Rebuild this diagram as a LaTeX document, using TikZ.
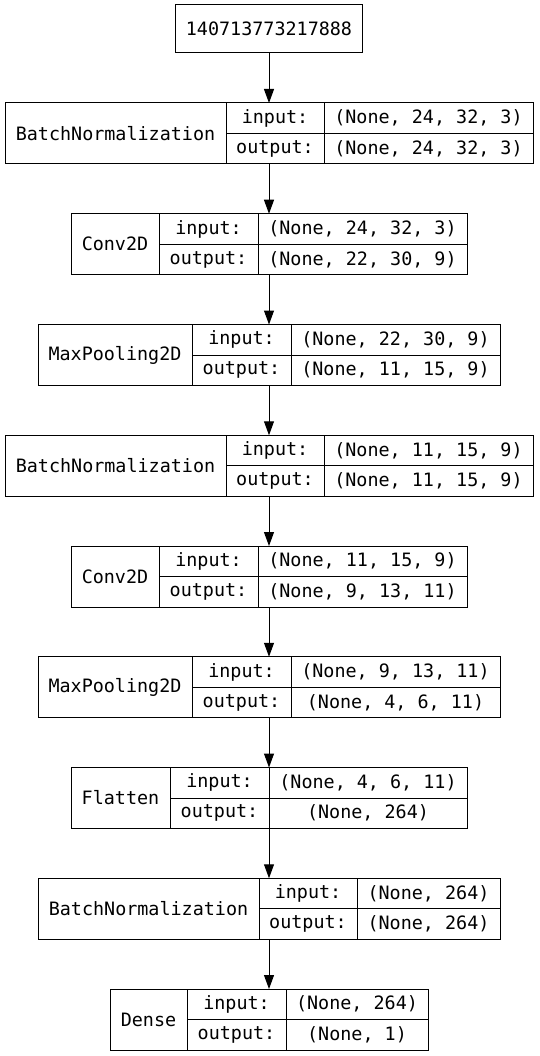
\documentclass[tikz,border=0pt]{standalone}
\usepackage{fontspec}
\setmainfont{DejaVu Sans Mono}
\usetikzlibrary{arrows.meta}

% one layer of the model: frame, name cell and the four shape cells
% #1 name, #2 centre y, #3..#6 column edges x, #7 label, #8 input, #9 output
\newcommand{\kerasrow}[9]{%
  \node[frame,minimum width={#6-#3}] (#1) at ({(#3+#6)/2},#2) {};
  \node[cell,minimum width={#4-#3},minimum height=61] (#1n) at ({(#3+#4)/2},#2) {#7};
  \node[cell,minimum width={#5-#4}] (#1a) at ({(#4+#5)/2},{#2-15.25}) {input:};
  \node[cell,minimum width={#6-#5}] (#1b) at ({(#5+#6)/2},{#2-15.25}) {#8};
  \node[cell,minimum width={#5-#4}] (#1c) at ({(#4+#5)/2},{#2+15.25}) {output:};
  \node[cell,minimum width={#6-#5}] (#1d) at ({(#5+#6)/2},{#2+15.25}) {#9};
}

\begin{document}
\begin{tikzpicture}[x=1pt,y=-1pt,
    cell/.style={draw,line width=1pt,inner sep=0pt,outer sep=0pt,
                 minimum height=30.5,font=\fontsize{18.4}{22}\selectfont},
    frame/.style={inner sep=0pt,outer sep=0pt,minimum height=61},
    flow/.style={line width=1pt,-{Triangle[length=14pt,width=10pt]}}]

  \useasboundingbox (0,0) rectangle (539,1056);

  % --- the input node ---
  \node[cell,minimum width=187,minimum height=48] (inp) at (269,29) {140713773217888};

  % --- the layers, top to bottom ---
  \kerasrow{bnA}{133.5}{5}{226}{324}{533}{BatchNormalization}{(None, 24, 32, 3)}{(None, 24, 32, 3)}
  \kerasrow{convA}{244.25}{71}{159}{258}{467}{Conv2D}{(None, 24, 32, 3)}{(None, 22, 30, 9)}
  \kerasrow{poolA}{355}{38}{192}{291}{500}{MaxPooling2D}{(None, 22, 30, 9)}{(None, 11, 15, 9)}
  \kerasrow{bnB}{465.75}{5}{226}{324}{533}{BatchNormalization}{(None, 11, 15, 9)}{(None, 11, 15, 9)}
  \kerasrow{convB}{576.5}{71}{159}{258}{467}{Conv2D}{(None, 11, 15, 9)}{(None, 9, 13, 11)}
  \kerasrow{poolB}{687.25}{38}{192}{291}{500}{MaxPooling2D}{(None, 9, 13, 11)}{(None, 4, 6, 11)}
  \kerasrow{flat}{798}{71}{170}{269}{467}{Flatten}{(None, 4, 6, 11)}{(None, 264)}
  \kerasrow{bnC}{908.75}{38}{259}{357}{500}{BatchNormalization}{(None, 264)}{(None, 264)}
  \kerasrow{dense}{1019.5}{110}{187}{286}{428}{Dense}{(None, 264)}{(None, 1)}

  % --- arrows between the layers ---
  \draw[flow] (inp.south) -- (bnA.north);
  \draw[flow] (bnA.south) -- (convA.north);
  \draw[flow] (convA.south) -- (poolA.north);
  \draw[flow] (poolA.south) -- (bnB.north);
  \draw[flow] (bnB.south) -- (convB.north);
  \draw[flow] (convB.south) -- (poolB.north);
  \draw[flow] (poolB.south) -- (flat.north);
  \draw[flow] (flat.south) -- (bnC.north);
  \draw[flow] (bnC.south) -- (dense.north);
\end{tikzpicture}
\end{document}
